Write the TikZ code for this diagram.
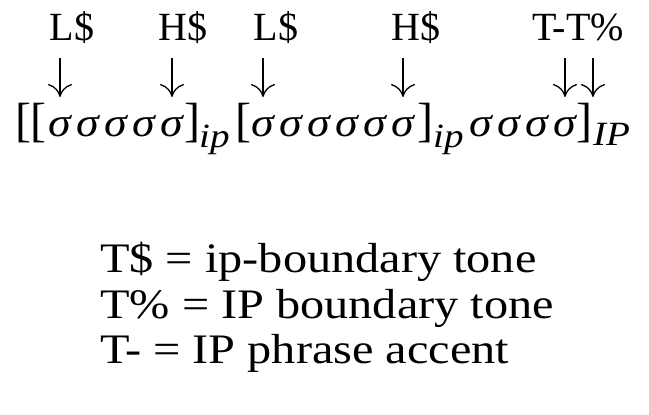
\documentclass[tikz,border=0pt]{standalone}
\usepackage{fontspec}
\setmainfont{Liberation Serif}
\newfontfamily\widefont{Liberation Serif}[FakeStretch=1.15]
\newfontfamily\sgfont{Liberation Serif}[FakeStretch=1.12]
\newfontfamily\subfont{Liberation Serif}[FakeStretch=1.15]
\usetikzlibrary{arrows.meta}
\begin{document}
\begin{tikzpicture}[x=1pt,y=-1pt,
  lab/.style={anchor=base, font=\fontsize{40}{40}\selectfont, inner sep=0pt},
  sig/.style={anchor=base, font=\sgfont\fontsize{41}{41}\selectfont\itshape, inner sep=0pt},
  brk/.style={anchor=base, font=\fontsize{48}{48}\selectfont, inner sep=0pt},
  sub/.style={anchor=base west, font=\subfont\fontsize{34}{34}\selectfont\itshape, inner sep=0pt},
  leg/.style={anchor=base west, font=\widefont\fontsize{42}{42}\selectfont, inner sep=0pt},
  arr/.style={-{Computer Modern Rightarrow[length=13pt,width=24pt]}, line width=1.3pt}]
\useasboundingbox (0,0) rectangle (649,415);
% tone labels
\node[lab] (l1) at (72,40) {L\$};
\node[lab] (l2) at (183,40) {H\$};
\node[lab] (l3) at (276,40) {L\$};
\node[lab] (l4) at (416,40) {H\$};
\node[lab] (l5) at (578,40) {T-T\%};
% arrows
\foreach \i/\x in {1/60,2/172,3/263,4/403,5/565,6/593}{
  \coordinate (t\i) at (\x,58);
  \coordinate (b\i) at (\x,97);
  \draw[arr] (t\i) -- (b\i);
}
% brackets
\node[brk] (k1) at (23,136) {[};
\node[brk] (k2) at (38,136) {[};
\node[brk] (k3) at (192,136) {]};
\node[brk] (k4) at (243,136) {[};
\node[brk] (k5) at (425,136) {]};
\node[brk] (k6) at (584,136) {]};
% syllables
\foreach \x [count=\i] in {60,88,116,144,172,263,291,319,347,375,403,481,509,537,565}{
  \node[sig] (s\i) at (\x,136) {σ};
}
% subscripts
\node[sub] (p1) at (199,147) {ip};
\node[sub] (p2) at (433,147) {ip};
\node[sub] (p3) at (593,145) {IP};
% legend
\node[leg] (g1) at (100,272) {T\$ = ip-boundary tone};
\node[leg] (g2) at (100,318) {T\% = IP boundary tone};
\node[leg] (g3) at (100,363) {T- = IP phrase accent};
\end{tikzpicture}
\end{document}
